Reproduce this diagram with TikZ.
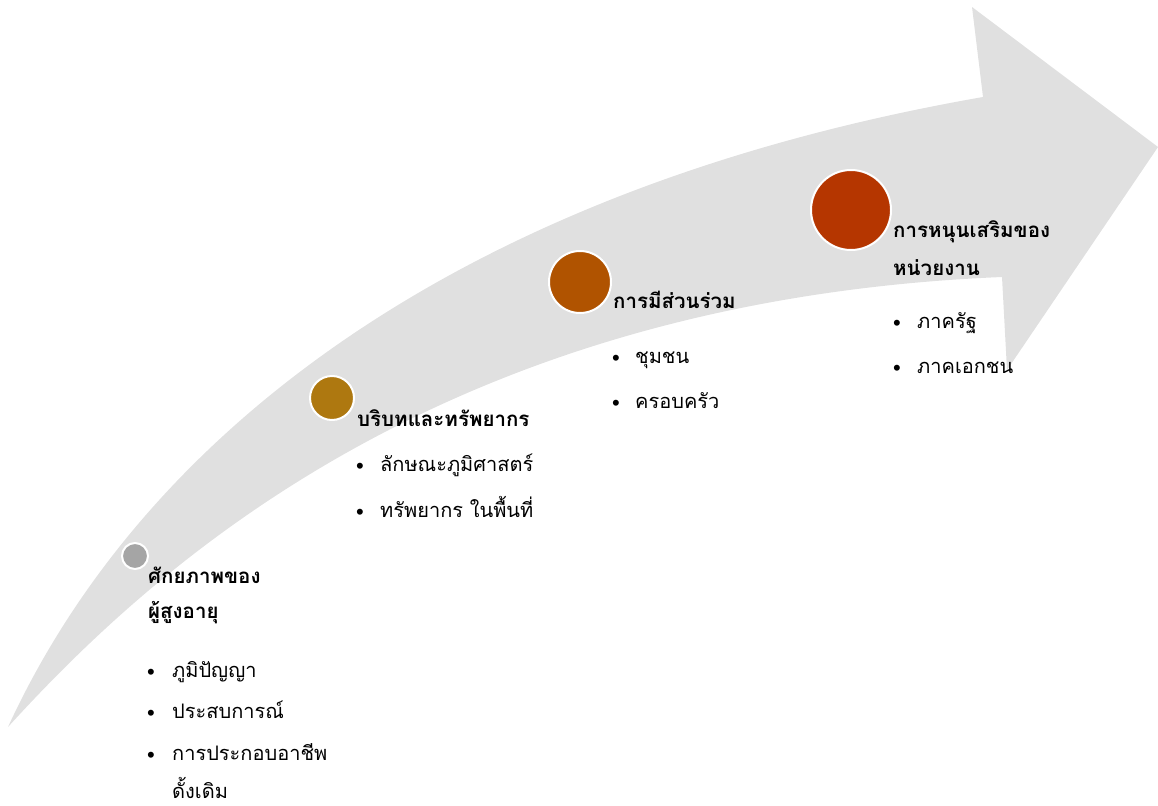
\documentclass[tikz,border=0pt]{standalone}
\usepackage{fontspec}
\newfontfamily\thaifont[Script=Thai]{Loma}
\newfontfamily\bulfont{Liberation Sans}
\definecolor{arrowgray}{HTML}{E0E0E0}
\definecolor{cone}{HTML}{A5A5A5}
\definecolor{ctwo}{HTML}{AE7810}
\definecolor{cthree}{HTML}{B05300}
\definecolor{cfour}{HTML}{B53600}
\begin{document}
\begin{tikzpicture}[x=1pt,y=-1pt,
  head/.style={anchor=base west, inner sep=0pt, font=\thaifont\bfseries\fontsize{20.5}{24}\selectfont},
  item/.style={anchor=base west, inner sep=0pt, font=\thaifont\fontsize{20}{24}\selectfont},
  dot/.style={anchor=base west, inner sep=0pt, yshift=-2pt, font=\bulfont\fontsize{22}{24}\selectfont},
  stage/.style={circle, draw=white, line width=2pt, inner sep=0pt}]
\useasboundingbox (0,0) rectangle (1158,805);
\fill[arrowgray] (8,727) .. controls (140,440) and (450,190) .. (983,97)
  -- (972,7) -- (1158,147) -- (1007,370) -- (1002,277)
  .. controls (450,300) and (160,560) .. (8,727) -- cycle;
% stages
\node[stage, fill=cone, minimum size=26pt] (s1) at (135,556) {};
\node[stage, fill=ctwo, minimum size=44pt] (s2) at (332,398) {};
\node[stage, fill=cthree, minimum size=62pt] (s3) at (580,282) {};
\node[stage, fill=cfour, minimum size=80pt] (s4) at (851,210) {};
% stage 1
\node[head] (h1a) at (148,583) {ศักยภาพของ};
\node[head] (h1b) at (148,618) {ผู้สูงอายุ};
\node[dot] (d1a) at (147,677) {•};
\node[item] (i1a) at (172,677) {ภูมิปัญญา};
\node[dot] (d1b) at (147,718) {•};
\node[item] (i1b) at (172,718) {ประสบการณ์};
\node[dot] (d1c) at (147,760) {•};
\node[item] (i1c) at (172,760) {การประกอบอาชีพ};
\node[item] (i1d) at (172,798) {ดั้งเดิม};
% stage 2
\node[head] (h2) at (357,426) {บริบทและทรัพยากร};
\node[dot] (d2a) at (356,471) {•};
\node[item] (i2a) at (380,471) {ลักษณะภูมิศาสตร์};
\node[dot] (d2b) at (356,517) {•};
\node[item] (i2b) at (380,517) {ทรัพยากร ในพื้นที่};
% stage 3
\node[head] (h3) at (613,308) {การมีส่วนร่วม};
\node[dot] (d3a) at (612,363) {•};
\node[item] (i3a) at (635,363) {ชุมชน};
\node[dot] (d3b) at (612,408) {•};
\node[item] (i3b) at (635,408) {ครอบครัว};
% stage 4
\node[head] (h4a) at (893,237) {การหนุนเสริมของ};
\node[head] (h4b) at (893,275) {หน่วยงาน};
\node[dot] (d4a) at (893,328) {•};
\node[item] (i4a) at (917,328) {ภาครัฐ};
\node[dot] (d4b) at (893,373) {•};
\node[item] (i4b) at (917,373) {ภาคเอกชน};
\end{tikzpicture}
\end{document}
